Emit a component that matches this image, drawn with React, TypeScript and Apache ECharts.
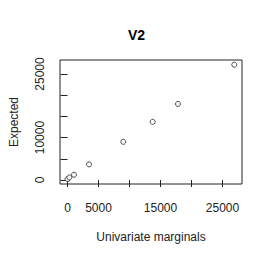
import React, { useEffect, useRef } from "react";
import * as echarts from "echarts";

const xValues = [0, 300, 1050, 3470, 9000, 13740, 17820, 26900];
const yValues = [200, 600, 1250, 3690, 9000, 13710, 17940, 27200];
const tickValues = [0, 5000, 10000, 15000, 20000, 25000];
const xLabelValues = [0, 5000, 15000, 25000];
const yLabelValues = [0, 10000, 25000];

export default function App() {
  const ref = useRef<HTMLDivElement>(null);
  useEffect(() => {
    const chart = echarts.init(ref.current!, null, { renderer: "svg" });
    const font = "Liberation Sans, Arial, sans-serif";
    chart.setOption({
      animation: false,
      backgroundColor: "#fff",
      title: {
        text: "V2",
        left: "center",
        top: 23,
        textStyle: { fontFamily: font, fontSize: 14, fontWeight: "bold", color: "#000" },
      },
      grid: {
        left: 60,
        right: 31,
        top: 60,
        bottom: 76,
        containLabel: false,
        outerBoundsMode: "none",
        show: true,
        borderColor: "#222",
        borderWidth: 1,
        backgroundColor: "transparent",
      },
      xAxis: {
        type: "value",
        min: -1210,
        max: 28150,
        splitLine: { show: false },
        axisLine: { show: false },
        axisTick: { show: true, customValues: tickValues, length: 7, lineStyle: { color: "#222" } },
        axisLabel: {
          customValues: xLabelValues,
          formatter: (v: number) => String(v),
          margin: 18,
          fontFamily: font,
          fontSize: 12,
          color: "#222",
        },
        name: "Univariate marginals",
        nameLocation: "middle",
        nameGap: 47,
        nameTextStyle: { fontFamily: font, fontSize: 12, color: "#222" },
      },
      yAxis: {
        type: "value",
        min: -943,
        max: 28300,
        splitLine: { show: false },
        axisLine: { show: false },
        axisTick: { show: true, customValues: tickValues, length: 7, lineStyle: { color: "#222" } },
        axisLabel: {
          customValues: yLabelValues,
          formatter: (v: number) => String(v),
          rotate: 90,
          margin: 14,
          fontFamily: font,
          fontSize: 12,
          color: "#222",
          align: "center",
          verticalAlign: "bottom",
        },
        name: "Expected",
        nameLocation: "middle",
        nameRotate: 90,
        nameGap: 40,
        nameTextStyle: { fontFamily: font, fontSize: 12, color: "#222" },
      },
      series: [
        {
          type: "scatter",
          data: xValues.map((x, i) => [x, yValues[i]]),
          symbol: "circle",
          symbolSize: 5,
          itemStyle: { color: "#fff", borderColor: "#222", borderWidth: 1 },
        },
      ],
    });
    return () => chart.dispose();
  }, []);
  return <div ref={ref} style={{ width: 273, height: 260, margin: -8 }} />;
}
